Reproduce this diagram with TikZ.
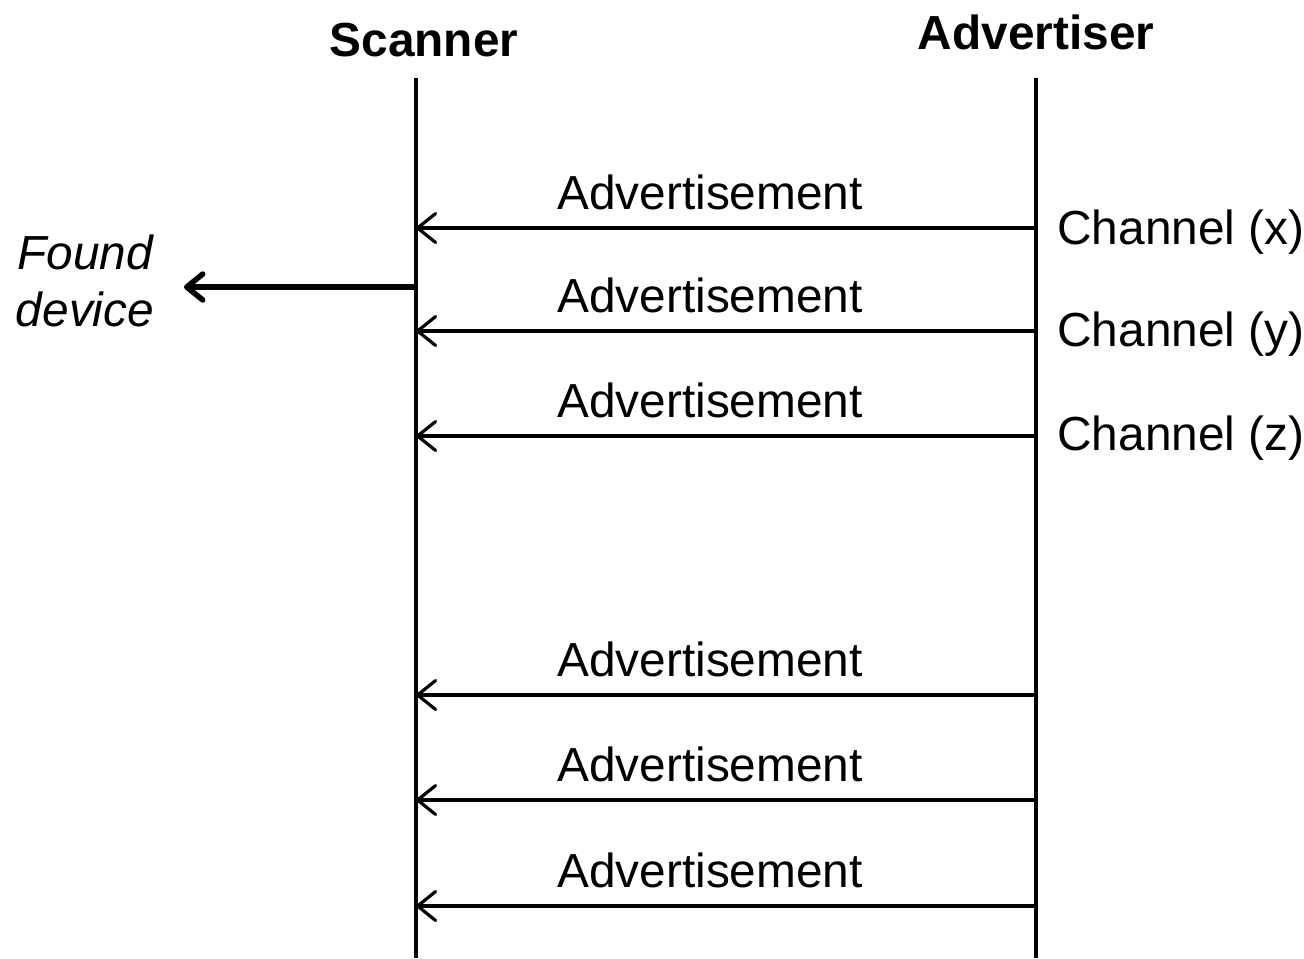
\documentclass[tikz,border=0pt]{standalone}
\usepackage{fontspec}
\setmainfont{Liberation Sans}
\usetikzlibrary{arrows.meta}
\begin{document}
\begin{tikzpicture}[x=0.5pt,y=-0.5pt,
  txt/.style={font=\fontsize{23.9}{28}\selectfont, inner sep=0pt},
  head/.style={txt, font=\fontsize{23.9}{28}\selectfont\bfseries},
  life/.style={line width=1.75pt},
  msg/.style={line width=1.6pt, -{Straight Barb[length=9pt,width=14.5pt,line cap=round,line join=round]}},
  found/.style={line width=2.75pt, -{Straight Barb[length=8pt,width=13pt,line cap=round,line join=round]}}]
\useasboundingbox (0,0) rectangle (1304,958);

% participants
\node[head] (scn) at (424,40) {Scanner};
\node[head] (adv) at (1036,32) {Advertiser};

% lifelines
\coordinate (st) at (416,78);
\coordinate (sb) at (416,958);
\coordinate (at) at (1036,78);
\coordinate (ab) at (1036,958);
\draw[life] (st) -- (sb);
\draw[life] (at) -- (ab);

% advertisement messages
\foreach \y/\n in {228/1,331/2,436/3,695/4,800/5,906/6}{
  \coordinate (a\n) at (1036,\y);
  \coordinate (s\n) at (416,\y);
  \draw[msg] (a\n) -- (s\n);
  \node[txt] (m\n) at (710,\y-36) {Advertisement};
}

% channel labels
\node[txt, anchor=west] (cx) at (1057,232) {Channel (x)};
\node[txt, anchor=west] (cy) at (1057,334) {Channel (y)};
\node[txt, anchor=west] (cz) at (1057,438) {Channel (z)};

% scanner reports the found device
\coordinate (fs) at (416,287);
\node[txt, align=center, font=\fontsize{23.9}{28.5}\selectfont\itshape] (fd) at (85,281) {Found\\device};
\coordinate (fe) at (184,287);
\draw[found] (fs) -- (fe);
\end{tikzpicture}
\end{document}
